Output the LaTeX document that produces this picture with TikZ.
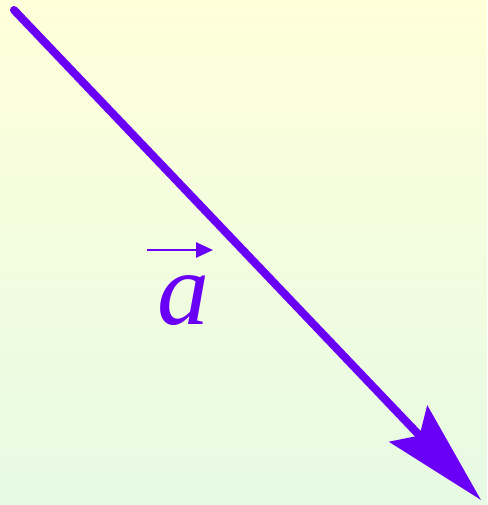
\documentclass[tikz,border=0pt]{standalone}
\usepackage{xcolor}
\usepackage{tikz}
\usepackage{fontspec}
\setmainfont{Liberation Serif}
\usetikzlibrary{arrows.meta, positioning, calc}
\definecolor{vecpurple}{RGB}{105, 0, 245}
\definecolor{bgtop}{RGB}{255, 255, 218}
\definecolor{bgbottom}{RGB}{230, 250, 228}

\begin{document}
\begin{tikzpicture}[x=1pt, y=-1pt,
    vec/.style={line width=8pt, vecpurple, line cap=round,
        -{Stealth[length=105pt, width=52pt, inset=16pt]}},
    overarr/.style={line width=2.8pt, vecpurple,
        -{Triangle[length=17pt, width=15pt]}},
    lbl/.style={inner sep=0pt, text=vecpurple,
        font=\fontsize{104}{104}\selectfont\itshape}
]

% Background
\useasboundingbox (0,0) rectangle (487,505);
\shade[top color=bgtop, bottom color=bgbottom] (0,0) rectangle (487,505);

% Vector
\coordinate (tail) at (14,10);
\coordinate (tip) at (481,500);
\draw[vec] (tail) -- (tip);

% Label
\node[lbl] (veca) at (183,301) {a};
\coordinate (arrl) at (147,250);
\coordinate (arrr) at (213,250);
\draw[overarr] (arrl) -- (arrr);

\end{tikzpicture}
\end{document}
